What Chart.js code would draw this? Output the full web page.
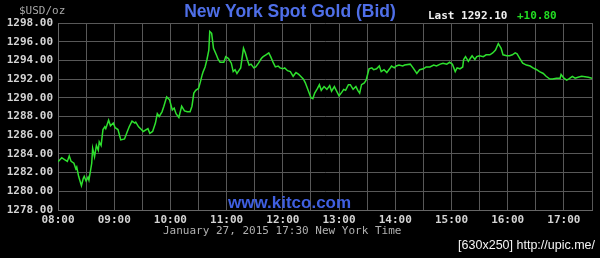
<!DOCTYPE html>
<html>
<head>
<meta charset="utf-8">
<script src="https://cdn.jsdelivr.net/npm/chart.js@4/dist/chart.umd.min.js"></script>
<style>
html,body{margin:0;padding:0;background:#000;}
canvas{display:block;}
</style>
</head>
<body>
<canvas id="c" width="600" height="258"></canvas>
<script>
// minutes after 08:00 New York time
const minutesAfter0800 = [0,4,7,10,12,14,17,19,20,22,25,27,28,30,32,33,36,37,39,41,43,44,46,48,50,51,54,56,59,61,64,67,71,74,76,79,82,83,86,89,91,96,98,101,104,106,108,111,113,116,119,122,124,126,129,132,135,138,141,143,145,147,150,152,154,155,157,159,161,162,164,166,169,171,173,177,179,182,185,187,189,191,193,195,198,200,202,204,206,209,211,214,217,219,222,225,227,230,232,235,237,240,242,245,248,251,254,257,259,262,264,267,270,272,274,277,279,281,284,287,290,292,295,297,300,303,305,307,310,312,315,318,320,322,324,327,329,332,335,337,340,343,345,348,351,354,356,359,361,364,368,370,376,379,383,386,390,393,397,401,404,408,411,415,418,421,424,426,429,432,433,435,438,440,442,445,447,450,454,457,461,464,467,470,473,475,479,482,485,488,490,493,496,500,504,507,511,514,518,521,525,528,532,536,537,540,543,545,549,552,555,559,566,570];
const bidPrice = [1283.15,1283.6,1283.4,1283.2,1283.8,1283.2,1283.0,1282.4,1282.6,1281.6,1280.6,1281.4,1281.6,1281.1,1281.5,1281.2,1283.0,1284.6,1283.7,1284.9,1284.4,1285.3,1284.9,1286.6,1286.9,1286.7,1287.6,1287.0,1287.3,1286.8,1286.6,1285.5,1285.6,1286.4,1286.9,1287.5,1287.3,1287.4,1286.9,1286.6,1286.4,1286.7,1286.2,1286.4,1287.3,1288.3,1288.0,1288.5,1289.1,1290.1,1289.8,1288.7,1288.9,1288.3,1287.9,1289.1,1288.6,1288.5,1288.5,1289.1,1290.5,1290.8,1291.0,1291.7,1292.5,1292.8,1293.3,1294.1,1295.1,1297.1,1296.9,1295.3,1294.6,1294.1,1293.8,1293.8,1294.4,1294.2,1293.7,1292.8,1293.0,1292.6,1292.9,1293.2,1295.3,1294.8,1294.1,1293.5,1293.6,1293.2,1293.3,1293.7,1294.2,1294.4,1294.6,1294.8,1294.4,1293.7,1293.3,1293.4,1293.2,1293.1,1293.2,1292.9,1292.8,1292.3,1292.7,1292.5,1292.3,1292.0,1291.6,1290.8,1290.0,1289.9,1290.5,1291.0,1291.4,1290.8,1291.2,1290.9,1291.3,1290.7,1291.2,1290.8,1290.2,1290.6,1290.9,1290.8,1291.4,1291.4,1290.9,1291.2,1290.8,1290.5,1291.4,1291.6,1291.9,1293.1,1293.2,1293.0,1293.1,1293.4,1292.8,1293.0,1292.7,1293.1,1293.4,1293.2,1293.4,1293.5,1293.4,1293.5,1293.6,1293.2,1292.6,1293.0,1293.1,1293.3,1293.3,1293.5,1293.4,1293.6,1293.7,1293.6,1293.8,1293.6,1292.8,1293.2,1293.1,1293.3,1294.1,1294.4,1293.9,1294.2,1294.5,1294.1,1294.4,1294.5,1294.4,1294.6,1294.6,1294.8,1295.1,1295.8,1295.3,1294.6,1294.5,1294.5,1294.6,1294.8,1294.7,1294.2,1293.7,1293.5,1293.4,1293.2,1293.0,1292.8,1292.6,1292.3,1292.0,1292.0,1292.1,1292.1,1292.5,1292.1,1291.9,1292.0,1292.3,1292.1,1292.2,1292.3,1292.2,1292.1];
const hourLabels = ["08:00","09:00","10:00","11:00","12:00","13:00","14:00","15:00","16:00","17:00"];
const yMin = 1278, yMax = 1298, yStep = 2;
const lastPrice = "1292.10", change = "+10.80";
const titleText = "New York Spot Gold (Bid)";
const unitText = "$USD/oz";
const dateText = "January 27, 2015 17:30 New York Time";
const siteText = "www.kitco.com";
const stampText = "[630x250] http://upic.me/";

const points = minutesAfter0800.map((m,i)=>({x:m,y:bidPrice[i]}));

const textPlugin = {
  id:'texts',
  beforeDraw(chart){
    const ctx = chart.ctx;
    ctx.save();
    ctx.fillStyle = '#000';
    ctx.fillRect(0,0,chart.width,chart.height);
    ctx.restore();
  },
  afterDraw(chart){
    const ctx = chart.ctx;
    ctx.save();
    ctx.textBaseline = 'middle';
    ctx.textAlign = 'left';
    ctx.fillStyle = '#a8a8a8';
    ctx.font = '11px "DejaVu Sans Mono"';
    ctx.fillText(unitText, 19, 11);
    ctx.fillStyle = '#4f6fe8';
    ctx.font = 'bold 17.5px "Liberation Sans"';
    ctx.textAlign = 'center';
    ctx.fillText(titleText, 290, 12);
    ctx.textAlign = 'left';
    ctx.font = 'bold 11px "DejaVu Sans Mono"';
    ctx.fillStyle = '#f0f0f0';
    ctx.fillText('Last ' + lastPrice, 428, 16);
    ctx.fillStyle = '#22dd22';
    ctx.fillText(change, 517, 16);
    ctx.fillStyle = '#3f5fe0';
    ctx.font = 'bold 17px "Liberation Sans"';
    ctx.fillText(siteText, 228, 203);
    ctx.fillStyle = '#b0b0b0';
    ctx.font = '11px "DejaVu Sans Mono"';
    ctx.fillText(dateText, 163, 231);
    ctx.fillStyle = '#f4f4f4';
    ctx.font = '12.5px "Liberation Sans"';
    ctx.textAlign = 'right';
    ctx.fillText(stampText, 595, 246);
    ctx.restore();
  }
};

new Chart(document.getElementById('c'), {
  type:'line',
  data:{datasets:[{data:points,borderColor:'#2ee02e',borderWidth:1.5,pointRadius:0,tension:0,fill:false}]},
  options:{
    responsive:false,
    animation:false,
    layout:{padding:{top:23,right:8,bottom:0,left:0}},
    plugins:{legend:{display:false},tooltip:{enabled:false}},
    scales:{
      x:{
        type:'linear',min:0,max:570,
        grid:{color:'#585858',drawTicks:false,lineWidth:1},
        border:{color:'#666'},
        ticks:{
          stepSize:30,autoSkip:false,maxRotation:0,padding:4,
          color:'#d4d4d4',
          font:{family:'"DejaVu Sans Mono"',size:11,weight:'bold'},
          callback:(v)=> (v%60===0 ? (hourLabels[v/60]||'') : '')
        },
        afterFit:(s)=>{s.height=48;}
      },
      y:{
        min:yMin,max:yMax,
        grid:{color:'#585858',drawTicks:false,lineWidth:1},
        border:{color:'#666'},
        ticks:{
          stepSize:yStep,padding:5,
          color:'#d4d4d4',
          font:{family:'"DejaVu Sans Mono"',size:11,weight:'bold'},
          callback:(v)=>v.toFixed(2)
        },
        afterFit:(s)=>{s.width=58;}
      }
    }
  },
  plugins:[textPlugin]
});
</script>
</body>
</html>
